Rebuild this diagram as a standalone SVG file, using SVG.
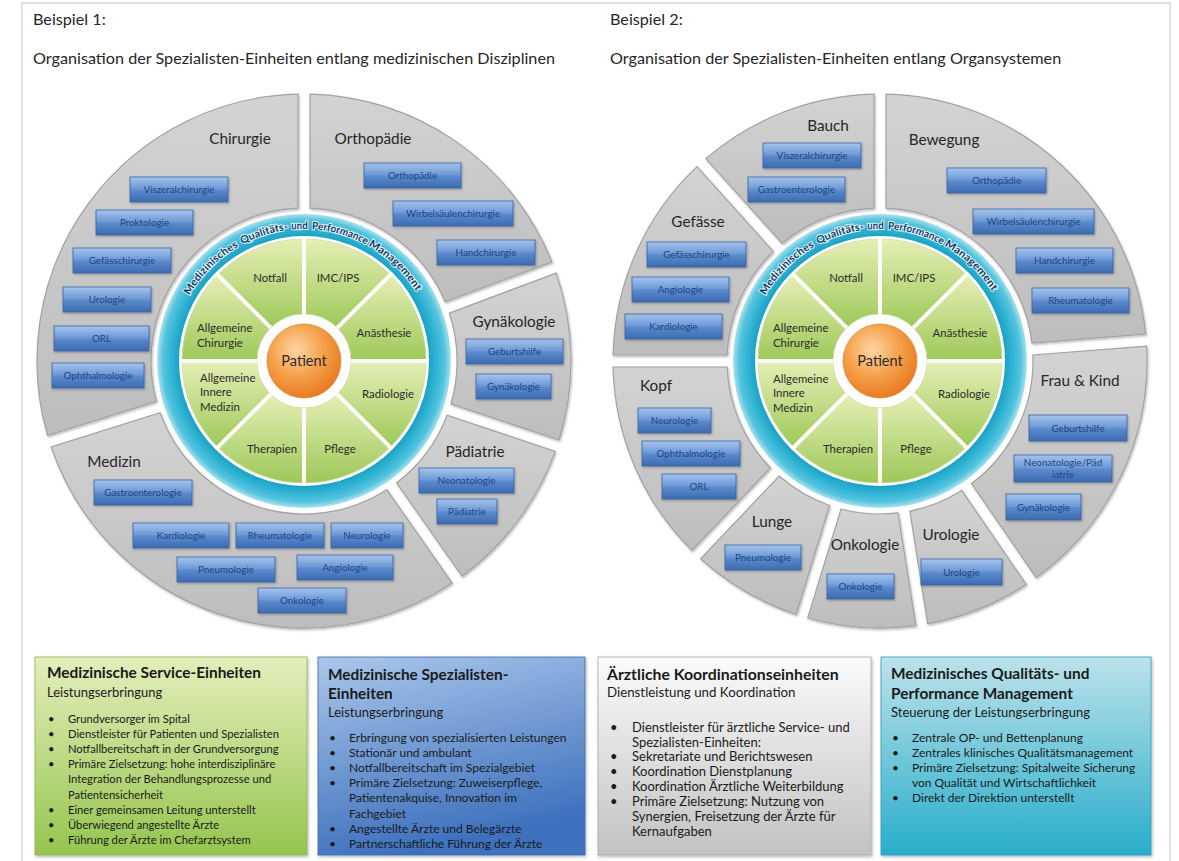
<svg xmlns="http://www.w3.org/2000/svg" xmlns:xlink="http://www.w3.org/1999/xlink" width="1179" height="861" viewBox="0 0 1179 861">
<style>
  text { font-family: Lato, "Liberation Sans", "DejaVu Sans", sans-serif; }
  .h { font-size: 16.2px; fill: #262626; }
  .seg { fill: url(#gGray); stroke: #a2a2a2; stroke-width: 1.2; filter: url(#shSeg); }
  .sl { font-size: 15.3px; fill: #262626; text-anchor: middle; }
  .bx { fill: url(#gBlue); stroke: #3565a5; stroke-width: 0.8; filter: url(#shBox); }
  .bt { font-size: 9.8px; fill: #1b4583; text-anchor: middle; }
  .gs { fill: url(#gGreen); stroke: #c5d596; stroke-width: 0.6; }
  .gt { font-size: 11.4px; fill: #2b2b2b; text-anchor: middle; }
  .gl { font-size: 11.4px; fill: #2b2b2b; }
  .pt { font-size: 14.5px; fill: #2b2b2b; text-anchor: middle; }
  .rt { font-size: 10.5px; font-weight: bold; fill: #163a62; stroke: #dff4f9; stroke-width: 2; paint-order: stroke; }
  .ct { font-size: 15.4px; font-weight: bold; fill: #1a1a1a; }
  .cs { font-size: 13px; fill: #1a1a1a; }
  .cl { font-size: 12px; fill: #1a1a1a; }
  .cl1 { font-size: 11.2px; fill: #1a1a1a; }
  .ct3 { font-size: 15.8px; font-weight: bold; fill: #1a1a1a; }
  .cs3 { font-size: 13.3px; fill: #1a1a1a; }
  .cl3 { font-size: 13px; fill: #1a1a1a; }
  .card { filter: url(#shCard); }
</style>
<defs>
  <linearGradient id="gGray" x1="0" y1="0" x2="0" y2="1">
    <stop offset="0" stop-color="#d3d3d3"/>
    <stop offset="1" stop-color="#bdbdbd"/>
  </linearGradient>
  <linearGradient id="gBlue" x1="0" y1="0" x2="0" y2="1">
    <stop offset="0" stop-color="#a6c4ec"/>
    <stop offset="0.45" stop-color="#6f9bd8"/>
    <stop offset="0.55" stop-color="#5a88cc"/>
    <stop offset="1" stop-color="#3d6bb0"/>
  </linearGradient>
  <linearGradient id="gGreen" x1="0" y1="0" x2="0" y2="1">
    <stop offset="0" stop-color="#e6efb6"/>
    <stop offset="1" stop-color="#9dc858"/>
  </linearGradient>
  <radialGradient id="gRing" gradientUnits="userSpaceOnUse" cx="0" cy="0" r="147">
    <stop offset="0.84" stop-color="#1a9ec1"/>
    <stop offset="0.9" stop-color="#2fb3d3"/>
    <stop offset="0.96" stop-color="#55c4de"/>
    <stop offset="1" stop-color="#a9e2ee"/>
  </radialGradient>
  <radialGradient id="gPatient" cx="0.4" cy="0.35" r="0.7">
    <stop offset="0" stop-color="#fdd6a6"/>
    <stop offset="0.5" stop-color="#f6a24c"/>
    <stop offset="1" stop-color="#e6761c"/>
  </radialGradient>
  <linearGradient id="gCardGreen" x1="0" y1="0" x2="0" y2="1">
    <stop offset="0" stop-color="#e4eebb"/>
    <stop offset="1" stop-color="#95c54f"/>
  </linearGradient>
  <linearGradient id="gCardBlue" x1="0" y1="0" x2="0.3" y2="1">
    <stop offset="0" stop-color="#aac7eb"/>
    <stop offset="1" stop-color="#3e71bd"/>
  </linearGradient>
  <linearGradient id="gCardGray" x1="0" y1="0" x2="0" y2="1">
    <stop offset="0" stop-color="#fbfbfb"/>
    <stop offset="1" stop-color="#c2c2c2"/>
  </linearGradient>
  <linearGradient id="gCardCyan" x1="0" y1="0" x2="0" y2="1">
    <stop offset="0" stop-color="#bde2ea"/>
    <stop offset="1" stop-color="#28adca"/>
  </linearGradient>
  <filter id="shSeg" x="-5%" y="-5%" width="110%" height="110%">
    <feDropShadow dx="1" dy="1.5" stdDeviation="1" flood-color="#000" flood-opacity="0.28"/>
  </filter>
  <filter id="shBox" x="-10%" y="-20%" width="120%" height="150%">
    <feDropShadow dx="0.8" dy="1.2" stdDeviation="0.8" flood-color="#000" flood-opacity="0.3"/>
  </filter>
  <filter id="shCard" x="-5%" y="-5%" width="110%" height="110%">
    <feDropShadow dx="1" dy="1.5" stdDeviation="1.5" flood-color="#000" flood-opacity="0.3"/>
  </filter>
  <!-- inner wheel sectors, centred on the origin -->
  <path id="s-notfall" d="M0,-122 A122,122 0 0 0 -86.27,-86.27 L-33.23,-33.23 A47,47 0 0 1 0,-47 Z"/>
  <path id="s-imc" d="M86.27,-86.27 A122,122 0 0 0 0,-122 L0,-47 A47,47 0 0 1 33.23,-33.23 Z"/>
  <path id="s-anae" d="M122,0 A122,122 0 0 0 86.27,-86.27 L33.23,-33.23 A47,47 0 0 1 47,0 Z"/>
  <path id="s-radio" d="M86.27,86.27 A122,122 0 0 0 122,0 L47,0 A47,47 0 0 1 33.23,33.23 Z"/>
  <path id="s-pflege" d="M0,122 A122,122 0 0 0 86.27,86.27 L33.23,33.23 A47,47 0 0 1 0,47 Z"/>
  <path id="s-thera" d="M-86.27,86.27 A122,122 0 0 0 0,122 L0,47 A47,47 0 0 1 -33.23,33.23 Z"/>
  <path id="s-aim" d="M-122,0 A122,122 0 0 0 -86.27,86.27 L-33.23,33.23 A47,47 0 0 1 -47,0 Z"/>
  <path id="s-ac" d="M-86.27,-86.27 A122,122 0 0 0 -122,0 L-47,0 A47,47 0 0 1 -33.23,-33.23 Z"/>
  <path id="s-gaps" d="M0,-47V-124 M0,47V124 M-47,0H-124 M47,0H124 M-33.2,-33.2L-87.7,-87.7 M33.2,33.2L87.7,87.7 M-33.2,33.2L-87.7,87.7 M33.2,-33.2L87.7,-87.7" fill="none" stroke="#fff" stroke-width="4"/>
  <!-- baseline arc for the ring caption (r = 132, from 160 deg to 20 deg) -->
  <path id="ringArc" d="M-124.04,-45.15 A132,132 0 0 1 124.04,-45.15"/>
  <g id="ringCaption">
    <text class="rt"><textPath href="#ringArc" startOffset="22.3" textLength="70.3" lengthAdjust="spacingAndGlyphs">Medizinisches</textPath></text>
    <text class="rt"><textPath href="#ringArc" startOffset="96.8" textLength="48.6" lengthAdjust="spacingAndGlyphs">Qualitäts-</textPath></text>
    <text class="rt"><textPath href="#ringArc" startOffset="148.4" textLength="16.5" lengthAdjust="spacingAndGlyphs">und</textPath></text>
    <text class="rt"><textPath href="#ringArc" startOffset="168.9" textLength="57" lengthAdjust="spacingAndGlyphs">Performance</textPath></text>
    <text class="rt"><textPath href="#ringArc" startOffset="228" textLength="67" lengthAdjust="spacingAndGlyphs">Management</textPath></text>
  </g>
</defs>

<rect x="0" y="0" width="1179" height="861" fill="#fff"/>
<rect x="22" y="3" width="1148" height="880" fill="none" stroke="#c4c4c4" stroke-width="1"/>

<!-- headings -->
<g id="heading-1">
  <text class="h" x="33" y="25">Beispiel 1:</text>
  <text class="h" x="33" y="64">Organisation der Spezialisten-Einheiten entlang medizinischen Disziplinen</text>
</g>
<g id="heading-2">
  <text class="h" x="610" y="25">Beispiel 2:</text>
  <text class="h" x="610" y="64">Organisation der Spezialisten-Einheiten entlang Organsystemen</text>
</g>

<!-- ===== wheel 1: medical disciplines ===== -->
<g id="wheel-1">
  <g id="w1-orthopaedie">
    <path class="seg" d="M551.93,261.90 A267,267 0 0 0 310,94.07 L310,208.12 A153,153 0 0 1 445.10,301.84 Z"/>
    <text class="sl" x="373" y="144">Orthopädie</text>
    <g id="w1-b-ortho"><rect class="bx" x="364" y="163" width="97" height="25"/><text class="bt" x="412.5" y="179">Orthopädie</text></g>
    <g id="w1-b-wirbel"><rect class="bx" x="393" y="201" width="120" height="25"/><text class="bt" x="453" y="217">Wirbelsäulenchirurgie</text></g>
    <g id="w1-b-hand"><rect class="bx" x="437" y="240" width="98" height="25"/><text class="bt" x="486" y="256">Handchirurgie</text></g>
  </g>
  <g id="w1-chirurgie">
    <path class="seg" d="M298,94.07 A267,267 0 0 0 47.62,435.55 L156.39,401.25 A153,153 0 0 1 298,208.12 Z"/>
    <text class="sl" x="240" y="144">Chirurgie</text>
    <g id="w1-b-visz"><rect class="bx" x="130" y="177" width="98" height="25"/><text class="bt" x="179" y="193">Viszeralchirurgie</text></g>
    <g id="w1-b-prokt"><rect class="bx" x="96" y="210" width="97" height="25"/><text class="bt" x="144.5" y="226">Proktologie</text></g>
    <g id="w1-b-gef"><rect class="bx" x="73" y="248" width="98" height="25"/><text class="bt" x="122" y="264">Gefässchirurgie</text></g>
    <g id="w1-b-uro"><rect class="bx" x="63" y="287" width="88" height="25"/><text class="bt" x="107" y="303">Urologie</text></g>
    <g id="w1-b-orl"><rect class="bx" x="54" y="326" width="95" height="25"/><text class="bt" x="101.5" y="342">ORL</text></g>
    <g id="w1-b-oph"><rect class="bx" x="52" y="363" width="92" height="25"/><text class="bt" x="98" y="379">Ophthalmologie</text></g>
  </g>
  <g id="w1-medizin">
    <path class="seg" d="M51.22,446.99 A267,267 0 0 0 452.19,583.10 L386.78,489.68 A153,153 0 0 1 160.00,412.70 Z"/>
    <text class="sl" x="114" y="467">Medizin</text>
    <g id="w1-b-gastro"><rect class="bx" x="94" y="480" width="98" height="25"/><text class="bt" x="143" y="496">Gastroenterologie</text></g>
    <g id="w1-b-kardio"><rect class="bx" x="133" y="523" width="96" height="25"/><text class="bt" x="181" y="539">Kardiologie</text></g>
    <g id="w1-b-rheuma"><rect class="bx" x="236" y="523" width="88" height="25"/><text class="bt" x="280" y="539">Rheumatologie</text></g>
    <g id="w1-b-neuro"><rect class="bx" x="331" y="523" width="72" height="25"/><text class="bt" x="367" y="539">Neurologie</text></g>
    <g id="w1-b-pneumo"><rect class="bx" x="177" y="557" width="98" height="25"/><text class="bt" x="226" y="573">Pneumologie</text></g>
    <g id="w1-b-angio"><rect class="bx" x="297" y="555" width="96" height="25"/><text class="bt" x="345" y="571">Angiologie</text></g>
    <g id="w1-b-onko"><rect class="bx" x="258" y="588" width="88" height="25"/><text class="bt" x="302" y="604">Onkologie</text></g>
  </g>
  <g id="w1-paediatrie">
    <path class="seg" d="M462.02,576.22 A267,267 0 0 0 555.24,451.39 L447.08,415.20 A153,153 0 0 1 396.61,482.79 Z"/>
    <text class="sl" x="475" y="457">Pädiatrie</text>
    <g id="w1-b-neonat"><rect class="bx" x="419" y="468" width="95" height="25"/><text class="bt" x="466.5" y="484">Neonatologie</text></g>
    <g id="w1-b-paed"><rect class="bx" x="437" y="499" width="60" height="25"/><text class="bt" x="467" y="515">Pädiatrie</text></g>
  </g>
  <g id="w1-gynaekologie">
    <path class="seg" d="M559.04,440.01 A267,267 0 0 0 556.13,273.14 L449.30,313.08 A153,153 0 0 1 450.89,403.82 Z"/>
    <text class="sl" x="514" y="327">Gynäkologie</text>
    <g id="w1-b-geburt"><rect class="bx" x="466" y="339" width="97" height="25"/><text class="bt" x="514.5" y="355">Geburtshilfe</text></g>
    <g id="w1-b-gyn"><rect class="bx" x="476" y="374" width="75" height="25"/><text class="bt" x="513.5" y="390">Gynäkologie</text></g>
  </g>

  <g id="w1-core" transform="translate(304,361)">
    <g id="w1-qpm">
      <circle r="147" fill="url(#gRing)"/>
      <circle r="125" fill="#fff"/>
      <use href="#ringCaption"/>
    </g>
    <g id="w1-notfall"><use href="#s-notfall" class="gs"/><text class="gt" x="-34" y="-79">Notfall</text></g>
    <g id="w1-imc"><use href="#s-imc" class="gs"/><text class="gt" x="34" y="-79">IMC/IPS</text></g>
    <g id="w1-anaesthesie"><use href="#s-anae" class="gs"/><text class="gt" x="80" y="-24">Anästhesie</text></g>
    <g id="w1-radiologie"><use href="#s-radio" class="gs"/><text class="gt" x="84" y="37">Radiologie</text></g>
    <g id="w1-pflege"><use href="#s-pflege" class="gs"/><text class="gt" x="36" y="92">Pflege</text></g>
    <g id="w1-therapien"><use href="#s-thera" class="gs"/><text class="gt" x="-32" y="92">Therapien</text></g>
    <g id="w1-aim"><use href="#s-aim" class="gs"/><text class="gl" x="-104" y="21">Allgemeine</text><text class="gl" x="-104" y="35">Innere</text><text class="gl" x="-104" y="50">Medizin</text></g>
    <g id="w1-ac"><use href="#s-ac" class="gs"/><text class="gl" x="-107" y="-29">Allgemeine</text><text class="gl" x="-107" y="-14">Chirurgie</text></g>
    <use href="#s-gaps"/>
    <g id="w1-patient"><circle r="37" fill="url(#gPatient)" stroke="#d98a3a" stroke-width="0.8"/><text class="pt" x="0" y="5">Patient</text></g>
  </g>
</g>

<!-- ===== wheel 2: organ systems ===== -->
<g id="wheel-2">
  <g id="w2-bewegung">
    <path class="seg" d="M1145.64,334.07 A267,267 0 0 0 886,94.07 L886,208.12 A153,153 0 0 1 1031.94,343.02 Z"/>
    <text class="sl" x="944" y="145">Bewegung</text>
    <g id="w2-b-ortho"><rect class="bx" x="947" y="168" width="99" height="25"/><text class="bt" x="996.5" y="184">Orthopädie</text></g>
    <g id="w2-b-wirbel"><rect class="bx" x="973" y="209" width="121" height="25"/><text class="bt" x="1033.5" y="225">Wirbelsäulenchirurgie</text></g>
    <g id="w2-b-hand"><rect class="bx" x="1016" y="248" width="97" height="25"/><text class="bt" x="1064.5" y="264">Handchirurgie</text></g>
    <g id="w2-b-rheuma"><rect class="bx" x="1032" y="288" width="97" height="25"/><text class="bt" x="1080.5" y="304">Rheumatologie</text></g>
  </g>
  <g id="w2-bauch">
    <path class="seg" d="M874,94.07 A267,267 0 0 0 705.84,158.61 L782.16,243.37 A153,153 0 0 1 874,208.12 Z"/>
    <text class="sl" x="828" y="131">Bauch</text>
    <g id="w2-b-visz"><rect class="bx" x="763" y="143" width="98" height="25"/><text class="bt" x="812" y="159">Viszeralchirurgie</text></g>
    <g id="w2-b-gastro"><rect class="bx" x="748" y="177" width="97" height="25"/><text class="bt" x="796.5" y="193">Gastroenterologie</text></g>
  </g>
  <g id="w2-gefaesse">
    <path class="seg" d="M696.93,166.64 A267,267 0 0 0 613.07,355 L727.12,355 A153,153 0 0 1 773.24,251.40 Z"/>
    <text class="sl" x="698" y="227">Gefässe</text>
    <g id="w2-b-gef"><rect class="bx" x="647" y="242" width="99" height="25"/><text class="bt" x="696.5" y="258">Gefässchirurgie</text></g>
    <g id="w2-b-angio"><rect class="bx" x="632" y="277" width="97" height="25"/><text class="bt" x="680.5" y="293">Angiologie</text></g>
    <g id="w2-b-kardio"><rect class="bx" x="625" y="314" width="97" height="25"/><text class="bt" x="673.5" y="330">Kardiologie</text></g>
  </g>
  <g id="w2-kopf">
    <path class="seg" d="M613.07,367 A267,267 0 0 0 691.90,550.50 L770.41,467.77 A153,153 0 0 1 727.12,367 Z"/>
    <text class="sl" x="656" y="391">Kopf</text>
    <g id="w2-b-neuro"><rect class="bx" x="638" y="408" width="73" height="25"/><text class="bt" x="674.5" y="424">Neurologie</text></g>
    <g id="w2-b-oph"><rect class="bx" x="642" y="441" width="98" height="25"/><text class="bt" x="691" y="457">Ophthalmologie</text></g>
    <g id="w2-b-orl"><rect class="bx" x="662" y="474" width="74" height="25"/><text class="bt" x="699" y="490">ORL</text></g>
  </g>
  <g id="w2-lunge">
    <path class="seg" d="M700.61,558.76 A267,267 0 0 0 796.22,614.52 L829.56,505.45 A153,153 0 0 1 779.11,476.03 Z"/>
    <text class="sl" x="772" y="527">Lunge</text>
    <g id="w2-b-pneumo"><rect class="bx" x="725" y="545" width="76" height="25"/><text class="bt" x="763" y="561">Pneumologie</text></g>
  </g>
  <g id="w2-onkologie">
    <path class="seg" d="M807.69,618.03 A267,267 0 0 0 915.83,625.59 L897.99,512.94 A153,153 0 0 1 841.04,508.96 Z"/>
    <text class="sl" x="865" y="550">Onkologie</text>
    <g id="w2-b-onko"><rect class="bx" x="827" y="574" width="67" height="25"/><text class="bt" x="860.5" y="590">Onkologie</text></g>
  </g>
  <g id="w2-urologie">
    <path class="seg" d="M927.68,623.71 A267,267 0 0 0 1026.25,584.39 L961.65,490.39 A153,153 0 0 1 909.86,511.06 Z"/>
    <text class="sl" x="951" y="540">Urologie</text>
    <g id="w2-b-uro"><rect class="bx" x="921" y="559" width="81" height="26"/><text class="bt" x="961.5" y="575.5">Urologie</text></g>
  </g>
  <g id="w2-frau-kind">
    <path class="seg" d="M1036.14,577.59 A267,267 0 0 0 1146.58,346.04 L1032.88,354.99 A153,153 0 0 1 971.54,483.60 Z"/>
    <text class="sl" x="1080" y="386">Frau &amp; Kind</text>
    <g id="w2-b-geburt"><rect class="bx" x="1029" y="415" width="98" height="26"/><text class="bt" x="1078" y="431.5">Geburtshilfe</text></g>
    <g id="w2-b-neonat"><rect class="bx" x="1014" y="455" width="98" height="27"/><text class="bt" x="1063" y="466">Neonatologie/Päd</text><text class="bt" x="1063" y="478">iatrie</text></g>
    <g id="w2-b-gyn"><rect class="bx" x="1006" y="494" width="75" height="26"/><text class="bt" x="1043.5" y="510.5">Gynäkologie</text></g>
  </g>

  <g id="w2-core" transform="translate(880,361)">
    <g id="w2-qpm">
      <circle r="147" fill="url(#gRing)"/>
      <circle r="125" fill="#fff"/>
      <use href="#ringCaption"/>
    </g>
    <g id="w2-notfall"><use href="#s-notfall" class="gs"/><text class="gt" x="-34" y="-79">Notfall</text></g>
    <g id="w2-imc"><use href="#s-imc" class="gs"/><text class="gt" x="34" y="-79">IMC/IPS</text></g>
    <g id="w2-anaesthesie"><use href="#s-anae" class="gs"/><text class="gt" x="80" y="-24">Anästhesie</text></g>
    <g id="w2-radiologie"><use href="#s-radio" class="gs"/><text class="gt" x="84" y="37">Radiologie</text></g>
    <g id="w2-pflege"><use href="#s-pflege" class="gs"/><text class="gt" x="36" y="92">Pflege</text></g>
    <g id="w2-therapien"><use href="#s-thera" class="gs"/><text class="gt" x="-32" y="92">Therapien</text></g>
    <g id="w2-aim"><use href="#s-aim" class="gs"/><text class="gl" x="-107" y="22">Allgemeine</text><text class="gl" x="-107" y="36">Innere</text><text class="gl" x="-107" y="51">Medizin</text></g>
    <g id="w2-ac"><use href="#s-ac" class="gs"/><text class="gl" x="-107" y="-29">Allgemeine</text><text class="gl" x="-107" y="-14">Chirurgie</text></g>
    <use href="#s-gaps"/>
    <g id="w2-patient"><circle r="37" fill="url(#gPatient)" stroke="#d98a3a" stroke-width="0.8"/><text class="pt" x="0" y="5">Patient</text></g>
  </g>
</g>

<!-- ===== legend cards ===== -->
<g id="card-service">
  <rect class="card" x="35" y="657" width="272" height="198" fill="url(#gCardGreen)" stroke="#8fb456" stroke-width="0.8"/>
  <text class="ct" x="47" y="678">Medizinische Service-Einheiten</text>
  <text class="cs" x="47" y="697">Leistungserbringung</text>
  <g class="cl1">
    <text x="48" y="723">•</text><text x="68" y="723">Grundversorger im Spital</text>
    <text x="48" y="738.1">•</text><text x="68" y="738.1">Dienstleister für Patienten und Spezialisten</text>
    <text x="48" y="753.2">•</text><text x="68" y="753.2">Notfallbereitschaft in der Grundversorgung</text>
    <text x="48" y="768.3">•</text><text x="68" y="768.3">Primäre Zielsetzung: hohe interdisziplinäre</text>
    <text x="68" y="783.4">Integration der Behandlungsprozesse und</text>
    <text x="68" y="798.5">Patientensicherheit</text>
    <text x="48" y="813.6">•</text><text x="68" y="813.6">Einer gemeinsamen Leitung unterstellt</text>
    <text x="48" y="828.7">•</text><text x="68" y="828.7">Überwiegend angestellte Ärzte</text>
    <text x="48" y="843.8">•</text><text x="68" y="843.8">Führung der Ärzte im Chefarztsystem</text>
  </g>
</g>
<g id="card-specialist">
  <rect class="card" x="318" y="657" width="267" height="198" fill="url(#gCardBlue)" stroke="#3f6aa8" stroke-width="0.8"/>
  <text class="ct" x="328" y="680">Medizinische Spezialisten-</text>
  <text class="ct" x="328" y="699">Einheiten</text>
  <text class="cs" x="328" y="717">Leistungserbringung</text>
  <g class="cl">
    <text x="329" y="742">•</text><text x="349" y="742">Erbringung von spezialisierten Leistungen</text>
    <text x="329" y="757.1">•</text><text x="349" y="757.1">Stationär und ambulant</text>
    <text x="329" y="772.2">•</text><text x="349" y="772.2">Notfallbereitschaft im Spezialgebiet</text>
    <text x="329" y="787.3">•</text><text x="349" y="787.3">Primäre Zielsetzung: Zuweiserpflege,</text>
    <text x="349" y="802.4">Patientenakquise, Innovation im</text>
    <text x="349" y="817.5">Fachgebiet</text>
    <text x="329" y="832.6">•</text><text x="349" y="832.6">Angestellte Ärzte und Belegärzte</text>
    <text x="329" y="847.7">•</text><text x="349" y="847.7">Partnerschaftliche Führung der Ärzte</text>
  </g>
</g>
<g id="card-coordination">
  <rect class="card" x="598" y="657" width="273" height="198" fill="url(#gCardGray)" stroke="#a8a8a8" stroke-width="0.8"/>
  <text class="ct3" x="607" y="680">Ärztliche Koordinationseinheiten</text>
  <text class="cs3" x="607" y="697">Dienstleistung und Koordination</text>
  <g class="cl3">
    <text x="610" y="732">•</text><text x="632" y="732">Dienstleister für ärztliche Service- und</text>
    <text x="632" y="747">Spezialisten-Einheiten:</text>
    <text x="610" y="761">•</text><text x="632" y="761">Sekretariate und Berichtswesen</text>
    <text x="610" y="776">•</text><text x="632" y="776">Koordination Dienstplanung</text>
    <text x="610" y="791">•</text><text x="632" y="791">Koordination Ärztliche Weiterbildung</text>
    <text x="610" y="806">•</text><text x="632" y="806">Primäre Zielsetzung: Nutzung von</text>
    <text x="632" y="821">Synergien, Freisetzung der Ärzte für</text>
    <text x="632" y="836">Kernaufgaben</text>
  </g>
</g>
<g id="card-quality">
  <rect class="card" x="881" y="657" width="270" height="198" fill="url(#gCardCyan)" stroke="#2a9fbb" stroke-width="0.8"/>
  <text class="ct" x="891" y="679">Medizinisches Qualitäts- und</text>
  <text class="ct" x="891" y="699">Performance Management</text>
  <text class="cs" x="891" y="717">Steuerung der Leistungserbringung</text>
  <g class="cl">
    <text x="892" y="742">•</text><text x="912" y="742">Zentrale OP- und Bettenplanung</text>
    <text x="892" y="757">•</text><text x="912" y="757">Zentrales klinisches Qualitätsmanagement</text>
    <text x="892" y="772">•</text><text x="912" y="772">Primäre Zielsetzung: Spitalweite Sicherung</text>
    <text x="912" y="787">von Qualität und Wirtschaftlichkeit</text>
    <text x="892" y="802">•</text><text x="912" y="802">Direkt der Direktion unterstellt</text>
  </g>
</g>
</svg>
